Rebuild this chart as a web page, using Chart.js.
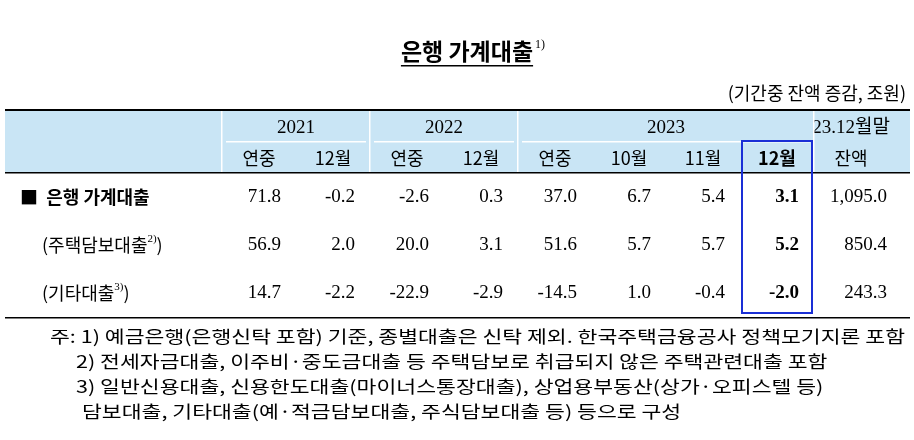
<!DOCTYPE html>
<html><head><meta charset="utf-8">
<script src="https://cdn.jsdelivr.net/npm/chart.js@4/dist/chart.umd.min.js"></script>
<style>html,body{margin:0;padding:0;background:#fff}</style>
</head><body>
<canvas id="c" width="914" height="440"></canvas>
<script>
const columns = ['2021 연중','2021 12월','2022 연중','2022 12월','2023 연중','2023 10월','2023 11월','2023 12월','23.12월말 잔액'];
const subHeaders = ['연중','12월','연중','12월','연중','10월','11월','12월','잔액'];
const yearGroups = [{label:'2021',from:0,to:1},{label:'2022',from:2,to:3},{label:'2023',from:4,to:7},{label:'23.12월말',from:8,to:8}];
const rows = ['■ 은행 가계대출','(주택담보대출2))','(기타대출3))'];
const rowLabelParts = [['■  은행 가계대출',''],['(주택담보대출','2)',')'],['(기타대출','3)',')']];
const total = ['71.8','-0.2','-2.6','0.3','37.0','6.7','5.4','3.1','1,095.0'];
const mortgage = ['56.9','2.0','20.0','3.1','51.6','5.7','5.7','5.2','850.4'];
const other = ['14.7','-2.2','-22.9','-2.9','-14.5','1.0','-0.4','-2.0','243.3'];
const values = [total, mortgage, other];
const notes = ['주: 1) 예금은행(은행신탁 포함) 기준, 종별대출은 신탁 제외. 한국주택금융공사 정책모기지론 포함',
 '2) 전세자금대출, 이주비·중도금대출 등 주택담보로 취급되지 않은 주택관련대출 포함',
 '3) 일반신용대출, 신용한도대출(마이너스통장대출), 상업용부동산(상가·오피스텔 등)',
 '담보대출, 기타대출(예·적금담보대출, 주식담보대출 등) 등으로 구성'];
const F = "'Liberation Serif','Noto Sans CJK KR',serif";
const K = "'Noto Sans CJK KR',sans-serif";

const tablePlugin = {
  id:'table',
  afterDraw(chart){
    const ctx = chart.ctx, xs = chart.scales.x, ys = chart.scales.y, ca = chart.chartArea;
    const w = xs.getPixelForValue(1) - xs.getPixelForValue(0);
    ctx.save();
    ctx.fillStyle = '#000'; ctx.textBaseline='alphabetic';
    ctx.font = "bold 23px "+K; ctx.textAlign='center';
    const t='은행 가계대출'; const tw=ctx.measureText(t).width;
    ctx.fillText(t,467,60);
    ctx.fillRect(467-tw/2,65,tw,1.5);
    ctx.font = "12px "+F; ctx.textAlign='left'; ctx.fillText('1)',467+tw/2+2,48);
    ctx.font = "18px "+K; ctx.textAlign='right'; ctx.fillText('(기간중 잔액 증감, 조원)',906,100);
    const hTop=110, hBot=ca.top;
    ctx.fillStyle='#c9e5f5'; ctx.fillRect(5,hTop,905,hBot-hTop);
    ctx.fillStyle='#000'; ctx.fillRect(5,hTop-1,905,2); ctx.fillRect(5,hBot-1,905,1.5);
    ctx.fillRect(5,ca.bottom,905,1.5);
    ctx.textBaseline='middle'; ctx.textAlign='center';
    yearGroups.forEach(g=>{
      const a=xs.getPixelForValue(g.from)-w/2, b=xs.getPixelForValue(g.to)+w/2;
      ctx.font="19px "+F; ctx.fillStyle='#000';
      ctx.fillText(g.label,(a+b)/2,128);
      if(g.from!==g.to){ctx.fillStyle='#fff'; ctx.fillRect(a+4,141,b-a-8,1.5);}
      ctx.fillStyle='#fff'; ctx.fillRect(a-1,hTop+1,1.5,hBot-hTop-2);
    });
    subHeaders.forEach((s,i)=>{
      ctx.fillStyle='#000';
      ctx.font=(i===7?"bold ":"")+"18px "+K;
      ctx.fillText(s,xs.getPixelForValue(i),158);
    });
    rowLabelParts.forEach((p,r)=>{
      const y=ys.getPixelForValue(r);
      ctx.textAlign='left'; ctx.fillStyle='#000';
      let x = r===0?20:42;
      ctx.font=(r===0?"bold ":"")+"18px "+K;
      ctx.fillText(p[0],x,y); x+=ctx.measureText(p[0]).width;
      if(p[1]){ctx.font="11px "+F; ctx.fillText(p[1],x,y-6); x+=ctx.measureText(p[1]).width;
        ctx.font="18px "+K; ctx.fillText(p[2],x,y);}
      values[r].forEach((v,i)=>{
        ctx.textAlign='right';
        ctx.font=(i===7?"bold ":"")+"19px "+F;
        ctx.fillText(v,xs.getPixelForValue(i)+(i===8?36:22),y);
      });
    });
    const bx=xs.getPixelForValue(7);
    ctx.strokeStyle='#1a2fd6'; ctx.lineWidth=2;
    ctx.strokeRect(bx-w/2+2,141,w-4,ca.bottom-141-4);
    ctx.textAlign='left'; ctx.fillStyle='#000'; ctx.font="17px "+K; ctx.textBaseline='middle';
    const sx = 855/ctx.measureText(notes[0]).width;
    notes.forEach((n,i)=>{
      ctx.save(); ctx.translate(i===0?50:(i===3?82:76),337+i*25); ctx.scale(sx,1);
      ctx.fillText(n,0,0); ctx.restore();
    });
    ctx.restore();
  }
};

new Chart(document.getElementById('c'),{
  type:'scatter',
  data:{datasets:[{data:[]}]},
  options:{
    responsive:false, animation:false, devicePixelRatio:1,
    layout:{padding:{left:222,right:26,top:173,bottom:440-317}},
    plugins:{legend:{display:false},tooltip:{enabled:false}},
    scales:{
      x:{type:'category',labels:columns,offset:true,display:false},
      y:{type:'category',labels:rows,offset:true,display:false}
    }
  },
  plugins:[tablePlugin]
});
</script></body></html>
